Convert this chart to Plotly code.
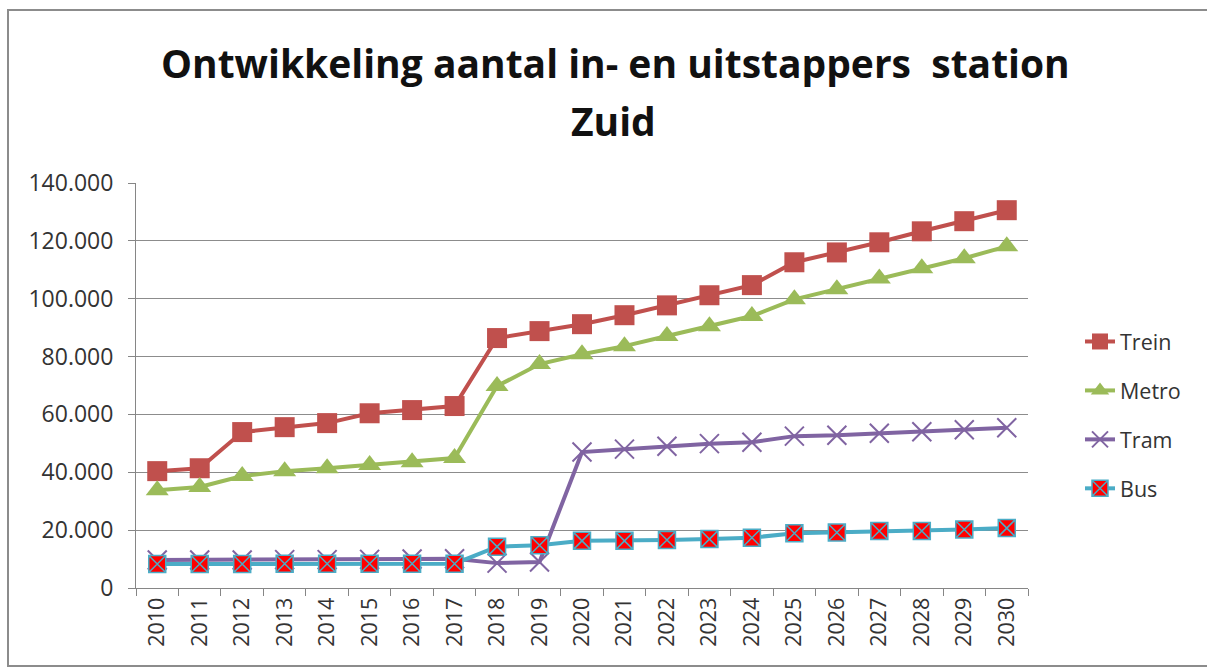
import plotly.graph_objects as go

# Station Zuid: boarding + alighting passengers per mode, 2010-2030
years = [str(y) for y in range(2010, 2031)]

trein = [40400, 41400, 53900, 55600, 57000, 60400, 61500, 62900, 86400, 88800,
         91200, 94300, 97700, 101200, 104700, 112600, 116000, 119500, 123300, 126800, 130600]
metro = [33800, 34900, 38700, 40400, 41400, 42500, 43500, 44900, 69800, 77400,
         80800, 83600, 87100, 90500, 94000, 99800, 103300, 107000, 110500, 114000, 118100]
tram = [9700, 9700, 9700, 9800, 9800, 9900, 10000, 10100, 8600, 9000,
        47000, 48000, 49000, 49900, 50400, 52500, 52800, 53500, 54000, 54700, 55400]
bus = [8300, 8300, 8300, 8400, 8400, 8400, 8400, 8400, 14300, 14800,
       16300, 16300, 16600, 16900, 17400, 18900, 19200, 19700, 19700, 20200, 20700]

y_ticks = [0, 20000, 40000, 60000, 80000, 100000, 120000, 140000]

title_lines = ["Ontwikkeling aantal in- en uitstappers  station", "Zuid"]

W, H = 1207, 668
L, R, T, B = 136, 1028, 183, 588
FONT = "Open Sans"


def px_x(x):
    return (x - L) / (R - L)


def px_y(y):
    return (B - y) / (B - T)


fig = go.Figure()

fig.add_trace(go.Scatter(
    x=years, y=trein, name="Trein", mode="lines+markers", legendgroup="a",
    line=dict(color="#C0504D", width=4),
    marker=dict(symbol="square", size=20, color="#C0504D"),
))
fig.add_trace(go.Scatter(
    x=years, y=metro, name="Metro", mode="lines+markers", legendgroup="b",
    line=dict(color="#9BBB59", width=4),
    marker=dict(symbol="triangle-up", size=20, color="#9BBB59"),
))
fig.add_trace(go.Scatter(
    x=years, y=tram, name="Tram", mode="lines+markers", legendgroup="c",
    line=dict(color="#8064A2", width=4),
    marker=dict(symbol="x-thin", size=19, color="#8064A2",
                line=dict(color="#8064A2", width=2)),
))
fig.add_trace(go.Scatter(
    x=years, y=bus, name="Bus", mode="lines+markers", legendgroup="d",
    line=dict(color="#4BACC6", width=4),
    marker=dict(symbol="square-x", size=17, color="#FF0000",
                line=dict(color="#4BACC6", width=1.5)),
))

# two-line chart title, each line placed on its own
title_annotations = [
    dict(text=f"<b>{title_lines[0]}</b>", x=px_x(615), y=px_y(62)),
    dict(text=f"<b>{title_lines[1]}</b>", x=px_x(613), y=px_y(120)),
]
for a in title_annotations:
    a.update(xref="paper", yref="paper", xanchor="center", yanchor="middle",
             showarrow=False, font=dict(family=FONT, size=39, color="#111111"))

fig.update_layout(
    width=W, height=H,
    margin=dict(l=L, r=W - R, t=T, b=H - B),
    paper_bgcolor="white", plot_bgcolor="white",
    separators=",.",
    font=dict(family=FONT, color="#333333"),
    annotations=title_annotations,
    showlegend=True,
    legend=dict(
        x=px_x(1080), xanchor="left",
        y=px_y(321), yanchor="top",
        font=dict(family=FONT, size=21.5, color="#333333"),
        tracegroupgap=18,
        bgcolor="rgba(0,0,0,0)",
    ),
    shapes=[dict(
        type="rect", xref="paper", yref="paper",
        x0=px_x(8), x1=px_x(1215), y0=px_y(666), y1=px_y(10),
        line=dict(color="#8c8c8c", width=2), fillcolor="rgba(0,0,0,0)",
        layer="below",
    )],
)

fig.update_xaxes(
    type="category", tickson="boundaries", range=[-0.5, 20.5],
    ticks="outside", ticklen=7, tickcolor="#868686",
    showline=True, linecolor="#868686", linewidth=1,
    showgrid=False, tickangle=-90,
    tickfont=dict(family=FONT, size=21.5, color="#333333"),
)
fig.update_yaxes(
    range=[0, 140000], tickvals=y_ticks, tickformat=",d",
    ticks="outside", ticklen=7, tickcolor="#868686",
    showline=True, linecolor="#868686", linewidth=1,
    showgrid=True, gridcolor="#8c8c8c", gridwidth=1,
    zeroline=False, ticklabelstandoff=10,
    tickfont=dict(family=FONT, size=23, color="#333333"),
)

fig.write_html("out.html")
